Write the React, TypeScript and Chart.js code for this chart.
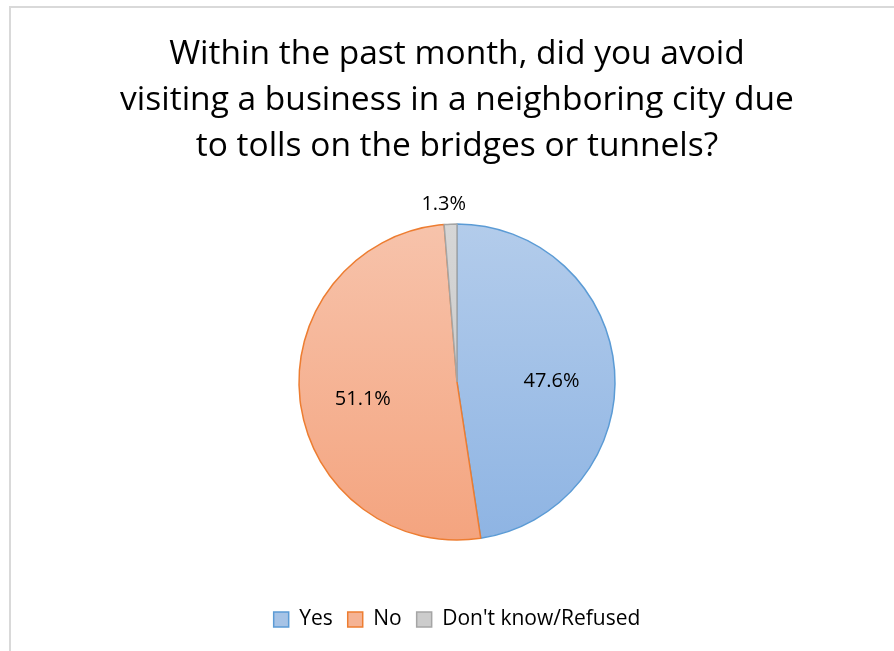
import React, { useEffect, useRef } from "react";
import { Chart, registerables } from "chart.js";

Chart.register(...registerables);

const titleLines = [
  "Within the past month, did you avoid",
  "visiting a business in a neighboring city due",
  "to tolls on the bridges or tunnels?",
];
const categories = ["Yes", "No", "Don't know/Refused"];
const values = [47.6, 51.1, 1.3];
const valueLabels = ["47.6%", "51.1%", "1.3%"];

const FONT = "'Open Sans', Lato, sans-serif";
const RADIUS = 158;

const gradStops = [
  ["#b3cceb", "#8eb4e3"],
  ["#f7c3ab", "#f4a47f"],
  ["#d6d6d6", "#c4c4c4"],
];
const borderColors = ["#5b9bd5", "#ed7d31", "#a5a5a5"];
const legendFills = ["#a6c3e6", "#f5b394", "#cccccc"];

const framePlugin = {
  id: "frame",
  beforeDraw(chart: any) {
    const c = chart.ctx;
    c.save();
    c.fillStyle = "#ffffff";
    c.fillRect(0, 0, chart.width, chart.height);
    c.strokeStyle = "#d9d9d9";
    c.lineWidth = 2;
    c.strokeRect(10, 7, 2000, 2000);
    c.restore();
  },
};

const labelPlugin = {
  id: "sliceLabels",
  afterDatasetsDraw(chart: any) {
    const c = chart.ctx;
    const meta = chart.getDatasetMeta(0);
    c.save();
    c.font = `20px ${FONT}`;
    c.fillStyle = "#000000";
    c.textAlign = "center";
    c.textBaseline = "middle";
    meta.data.forEach((arc: any, i: number) => {
      const { x, y, startAngle, endAngle, outerRadius } = arc.getProps(
        ["x", "y", "startAngle", "endAngle", "outerRadius"],
        true
      );
      const mid = (startAngle + endAngle) / 2;
      const frac = values[i] / values.reduce((a, b) => a + b, 0);
      if (frac < 0.05) {
        const r = outerRadius + 20;
        c.fillText(valueLabels[i], x + Math.cos(mid) * r - 6, y + Math.sin(mid) * r);
      } else {
        const r = outerRadius * 0.6;
        c.fillText(valueLabels[i], x + Math.cos(mid) * r, y + Math.sin(mid) * r + 6);
      }
    });
    c.restore();
  },
};

export default function App() {
  const ref = useRef<HTMLCanvasElement | null>(null);
  useEffect(() => {
    if (!ref.current) return;
    const chart = new Chart(ref.current, {
      type: "pie",
      data: {
        labels: categories,
        datasets: [
          {
            data: values,
            radius: RADIUS,
            backgroundColor: (ctx: any) => {
              const ch = ctx.chart;
              const area = ch.chartArea;
              const i = ctx.dataIndex;
              if (!area) return gradStops[i][0];
              const cy = (area.top + area.bottom) / 2;
              const g = ch.ctx.createLinearGradient(0, cy - RADIUS, 0, cy + RADIUS);
              g.addColorStop(0, gradStops[i][0]);
              g.addColorStop(1, gradStops[i][1]);
              return g;
            },
            borderColor: borderColors,
            borderWidth: 1.5,
          } as any,
        ],
      },
      options: {
        responsive: false,
        animation: false,
        layout: { padding: { left: 20, right: 0, top: 0, bottom: 11 } },
        plugins: {
          title: {
            display: true,
            text: titleLines,
            color: "#000000",
            font: { family: FONT, size: 33.5, weight: "normal", lineHeight: 46 / 33.5 },
            padding: { top: 31, bottom: 1 },
          },
          legend: {
            position: "bottom",
            labels: {
              font: { family: FONT, size: 21 },
              color: "#000000",
              boxWidth: 15,
              boxHeight: 15,
              padding: 15,
              generateLabels: () =>
                categories.map((t, i) => ({
                  text: t,
                  fillStyle: legendFills[i],
                  strokeStyle: borderColors[i],
                  lineWidth: 1.5,
                  hidden: false,
                  index: i,
                  datasetIndex: 0,
                })),
            },
          },
          tooltip: { enabled: false },
        },
      },
      plugins: [framePlugin, labelPlugin],
    });
    return () => chart.destroy();
  }, []);
  return (
    <div style={{ position: "fixed", left: 0, top: 0, width: 894, height: 651 }}>
      <canvas ref={ref} width={894} height={651} style={{ width: 894, height: 651 }} />
    </div>
  );
}
